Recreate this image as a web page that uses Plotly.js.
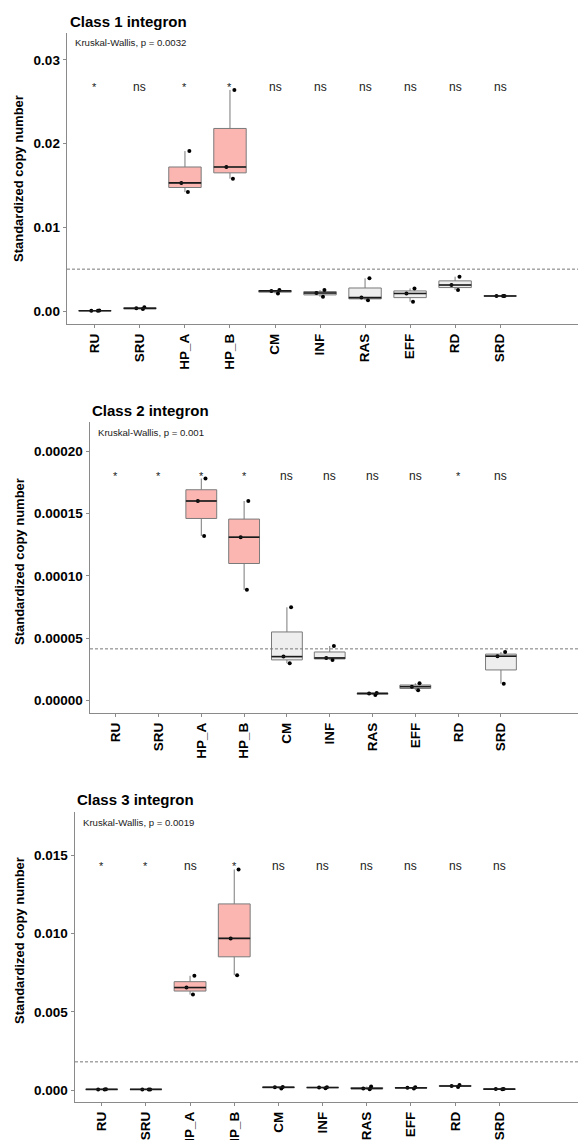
<!DOCTYPE html>
<html>
<head>
<meta charset="utf-8">
<script src="https://cdn.plot.ly/plotly-3.0.1.min.js"></script>
<style>
html,body{margin:0;padding:0;background:#fff;}
#chart{width:578px;height:1140px;}
</style>
</head>
<body>
<div id="chart"></div>
<script>
// ---------------- DATA ----------------
const categories = ['RU','SRU','HP_A','HP_B','CM','INF','RAS','EFF','RD','SRD'];

const class1Values = [
  [0.00003, 0.00004, 0.00005],
  [0.00025, 0.00032, 0.00045],
  [0.0142, 0.0153, 0.0191],
  [0.0158, 0.0172, 0.0264],
  [0.0021, 0.0024, 0.0025],
  [0.0017, 0.00215, 0.0025],
  [0.0013, 0.0016, 0.0039],
  [0.0011, 0.0021, 0.0027],
  [0.0025, 0.0031, 0.0041],
  [0.0018, 0.0018, 0.0018]
];
const class2Values = [
  [],
  [],
  [0.000132, 0.000160, 0.000178],
  [0.0000888, 0.000131, 0.000160],
  [0.0000300, 0.0000353, 0.0000748],
  [0.0000326, 0.0000342, 0.0000438],
  [0.0000045, 0.0000058, 0.0000062],
  [0.0000083, 0.0000112, 0.0000139],
  [],
  [0.0000136, 0.0000356, 0.0000390]
];
const class3Values = [
  [0.00003, 0.00004, 0.00005],
  [0.00003, 0.00004, 0.00004],
  [0.0061, 0.00655, 0.0073],
  [0.00734, 0.00969, 0.0141],
  [0.0001, 0.00018, 0.0002],
  [0.00012, 0.00016, 0.00018],
  [0.00005, 0.0001, 0.00022],
  [0.0001, 0.00014, 0.00017],
  [0.0002, 0.00026, 0.00032],
  [0.00005, 0.00006, 0.00007]
];

const class1Signif = ['*','ns','*','*','ns','ns','ns','ns','ns','ns'];
const class2Signif = ['*','*','*','*','ns','ns','ns','ns','*','ns'];
const class3Signif = ['*','*','ns','*','ns','ns','ns','ns','ns','ns'];

const panelTitles = ['Class 1 integron','Class 2 integron','Class 3 integron'];
const kruskalP = ['0.0032','0.001','0.0019'];
const thresholds = [0.005, 0.0000415, 0.0018];
const signifLabelY = [0.0268, 0.00018, 0.01435];

const yTickVals1 = [0, 0.01, 0.02, 0.03];
const yTickVals2 = [0, 0.00005, 0.0001, 0.00015, 0.0002];
const yTickVals3 = [0, 0.005, 0.01, 0.015];

// ---------------- STYLE / LAYOUT CONFIG ----------------
const FONT = 'Liberation Sans, Arial, Helvetica, sans-serif';
const W = 578, H = 1140;
const highlighted = ['HP_A','HP_B'];
const PINK = '#FCB6B2', GREY = '#EEEEEE', OUTLINE = '#7a7a7a', AXIS = '#8a8a8a';
const BOXW = 0.72;

const panels = [
  {vals: class1Values, sig: class1Signif, left: 67, top: 33, bottom: 324,
   xr: [-0.62, 10.73], yr: [-0.00155, 0.0332], ticks: yTickVals1, fmt: '.2f',
   titleX: 68, titleY: 22, yTitleY: 179},
  {vals: class2Values, sig: class2Signif, left: 90, top: 422, bottom: 713,
   xr: [-0.60, 10.80], yr: [-0.0000099, 0.0002233], ticks: yTickVals2, fmt: '.5f',
   titleX: 90, titleY: 410, yTitleY: 562},
  {vals: class3Values, sig: class3Signif, left: 75, top: 812, bottom: 1102,
   xr: [-0.604, 10.78], yr: [-0.000766, 0.01777], ticks: yTickVals3, fmt: '.3f',
   titleX: 75, titleY: 799, yTitleY: 941}
];

const traces = [];
const layout = {
  width: W, height: H,
  margin: {l:0, r:0, t:0, b:0},
  paper_bgcolor: '#fff', plot_bgcolor: '#fff',
  showlegend: false,
  font: {family: FONT, color: '#000'},
  shapes: [], annotations: []
};

function median(a){ const s=[...a].sort((p,q)=>p-q); const n=s.length; return n%2?s[(n-1)/2]:(s[n/2-1]+s[n/2])/2; }

panels.forEach((p, k) => {
  const sx = k === 0 ? '' : String(k+1);
  const xa = 'x' + sx, ya = 'y' + sx;
  p.vals.forEach((v, i) => {
    if (!v.length) return;
    const fill = highlighted.includes(categories[i]) ? PINK : GREY;
    traces.push({
      type: 'box', x: v.map(() => i), y: v, xaxis: xa, yaxis: ya,
      width: BOXW, quartilemethod: 'inclusive',
      fillcolor: fill, line: {color: OUTLINE, width: 1},
      boxpoints: 'all', jitter: 0.35, pointpos: 0,
      marker: {color: '#000', size: 4, line: {width: 0}},
      whiskerwidth: 0, hoverinfo: 'skip'
    });
    const m = median(v);
    traces.push({
      type: 'scatter', mode: 'lines', xaxis: xa, yaxis: ya,
      x: [i - BOXW/2, i + BOXW/2], y: [m, m],
      line: {color: '#1a1a1a', width: 1.6}, hoverinfo: 'skip'
    });
  });

  layout['xaxis' + sx] = {
    domain: [p.left / W, 1], anchor: ya, range: p.xr,
    tickmode: 'array', tickvals: categories.map((c, i) => i), ticktext: categories,
    tickangle: -90, ticks: 'outside', ticklen: 3, tickcolor: AXIS, tickwidth: 1,
    tickfont: {family: FONT, size: 13.5, color: '#000', weight: 'bold'},
    showline: true, linecolor: AXIS, linewidth: 1.4, mirror: false,
    showgrid: false, zeroline: false, fixedrange: true
  };
  layout['yaxis' + sx] = {
    domain: [1 - p.bottom / H, 1 - p.top / H], anchor: xa, range: p.yr,
    tickmode: 'array', tickvals: p.ticks, tickformat: p.fmt,
    ticks: 'outside', ticklen: 3, tickcolor: AXIS, tickwidth: 1,
    tickfont: {family: FONT, size: 13.5, color: '#000', weight: 'bold'},
    showline: true, linecolor: AXIS, linewidth: 1.4, mirror: false,
    showgrid: false, zeroline: false, fixedrange: true
  };

  layout.shapes.push({
    type: 'line', xref: xa + ' domain', yref: ya, x0: 0, x1: 1,
    y0: thresholds[k], y1: thresholds[k],
    line: {color: '#777', width: 1, dash: '3px,2px'}
  });

  p.sig.forEach((s, i) => {
    layout.annotations.push({
      xref: xa, yref: ya, x: i, y: signifLabelY[k], text: s, showarrow: false,
      xanchor: 'center', yanchor: 'middle',
      font: {family: FONT, size: s === '*' ? 11 : 12, color: '#1a1a1a'}
    });
  });

  layout.annotations.push({
    xref: xa + ' domain', yref: ya + ' domain', x: 6 / (W - p.left), y: 1 - 10 / (p.bottom - p.top),
    text: 'Kruskal-Wallis, p = ' + kruskalP[k], showarrow: false,
    xanchor: 'left', yanchor: 'middle',
    font: {family: FONT, size: 9.6, color: '#1a1a1a'}
  });

  layout.annotations.push({
    xref: 'paper', yref: 'paper', x: p.titleX / W, y: 1 - p.titleY / H,
    text: '<b>' + panelTitles[k] + '</b>', showarrow: false,
    xanchor: 'left', yanchor: 'middle',
    font: {family: FONT, size: 15, color: '#000'}
  });

  layout.annotations.push({
    xref: 'paper', yref: 'paper', x: 19 / W, y: 1 - p.yTitleY / H,
    text: '<b>Standardized copy number</b>', showarrow: false, textangle: -90,
    xanchor: 'center', yanchor: 'middle',
    font: {family: FONT, size: 13, color: '#000'}
  });
});

Plotly.newPlot('chart', traces, layout, {staticPlot: true, displayModeBar: false});
</script>
</body>
</html>
